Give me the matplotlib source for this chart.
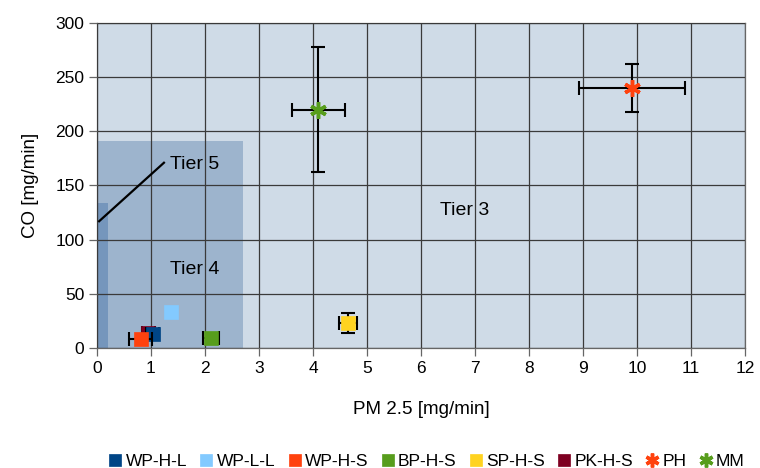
import matplotlib.pyplot as plt
from matplotlib.lines import Line2D
from matplotlib.patches import Rectangle

plt.rcParams['font.family'] = ['Liberation Sans', 'DejaVu Sans']

# measured emissions (mean, spread)
names = ["PK-H-S", "WP-H-L", "WP-L-L", "WP-H-S", "BP-H-S", "SP-H-S", "PH", "MM"]
pm25 = [0.95, 1.03, 1.37, 0.81, 2.11, 4.65, 9.9, 4.1]
pm25_err = [0.12, 0.12, 0.0, 0.21, 0.15, 0.16, 0.98, 0.49]
co = [14, 13, 33, 8, 9, 23, 240, 220]
co_err = [3, 3, 0, 0, 0, 9, 22, 58]
colors = ["#7e0021", "#004586", "#83caff", "#ff420e", "#579d1c", "#ffd320",
          "#ff420e", "#579d1c"]
legend_order = ["WP-H-L", "WP-L-L", "WP-H-S", "BP-H-S", "SP-H-S", "PK-H-S", "PH", "MM"]

# emission limit zones: (label, pm2.5 limit, co limit, colour)
tiers = [("Tier 3", 12, 300, "#cfdbe7"),
         ("Tier 4", 2.7, 191, "#9db4cd"),
         ("Tier 5", 0.2, 134, "#7596bc")]

fig = plt.figure(figsize=(7.6, 4.68), dpi=100)
ax = fig.add_axes([0.1276, 0.2564, 0.8527, 0.6945])

for label, xlim, ylim, col in tiers:
    ax.add_patch(Rectangle((0, 0), xlim, ylim, facecolor=col, edgecolor="none", zorder=0))

ax.set_xlim(0, 12)
ax.set_ylim(0, 300)
ax.set_xticks(range(0, 13))
ax.set_yticks(range(0, 301, 50))
ax.grid(True, color="#3a3a3a", linewidth=0.9, zorder=1)
ax.set_axisbelow(False)
for s in ax.spines.values():
    s.set_color("#666666")
    s.set_linewidth(0.9)
ax.tick_params(direction="out", length=6, width=0.9, color="#666666",
               labelsize=12.5, pad=3)

ax.set_xlabel("PM 2.5 [mg/min]", fontsize=13.5, labelpad=18)
ax.set_ylabel("CO [mg/min]", fontsize=13.5, labelpad=12)

# tier labels
ax.plot([0.04, 1.24], [117, 171], color="black", linewidth=1.6, zorder=3)
ax.text(1.35, 169, "Tier 5", fontsize=14, va="center", zorder=3)
ax.text(1.35, 72, "Tier 4", fontsize=14, va="center", zorder=3)
ax.text(6.35, 127, "Tier 3", fontsize=14, va="center", zorder=3)

handles = {}
for i, name in enumerate(names):
    star = name in ("PH", "MM")
    marker = (6, 2, 0) if star else "s"
    ax.errorbar(pm25[i], co[i],
                xerr=pm25_err[i] if pm25_err[i] else None,
                yerr=co_err[i] if co_err[i] else None,
                fmt="none", ecolor="black", elinewidth=1.5, capsize=5,
                capthick=1.5, zorder=4 + i)
    ax.plot(pm25[i], co[i], marker=marker, linestyle="none",
            markersize=12 if star else 10, color=colors[i],
            markeredgecolor=colors[i], markeredgewidth=2.5 if star else 0.5,
            zorder=4 + i + 0.5)
    handles[name] = Line2D([], [], marker=marker, linestyle="none",
                           markersize=10 if star else 8.5, color=colors[i],
                           markeredgewidth=2.5 if star else 0.5)

fig.legend([handles[n] for n in legend_order], legend_order,
           loc="center", bbox_to_anchor=(0.562, 0.014), ncol=8, frameon=False,
           fontsize=12.5, handletextpad=0.25, columnspacing=0.75,
           handlelength=0.7)

fig.savefig("out.png", dpi=100)
